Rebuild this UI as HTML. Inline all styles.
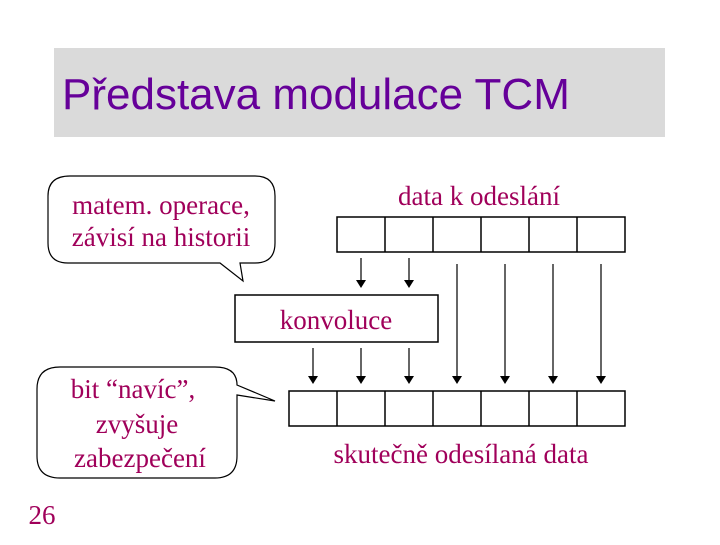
<!DOCTYPE html>
<html><head><meta charset="utf-8"><style>
body{margin:0;background:#fff;width:720px;height:540px;overflow:hidden}
</style></head><body>
<svg width="720" height="540" xmlns="http://www.w3.org/2000/svg">
<rect x="54" y="48" width="611" height="89" fill="#dadada"/>
<text x="62" y="109" font-family="Liberation Sans, sans-serif" font-size="44" fill="#660099">Představa modulace TCM</text>
<g fill="#fff" stroke="#000" stroke-width="1.2">
<path d="M70,176 H255 Q275,176 275,196 V243 Q275,263 255,263 H240 L243,281 L220,263 H68 Q48,263 48,243 V196 Q48,176 70,176 Z"/>
<path d="M60,367 H215 Q237,367 237,385 L275,401 L237,395 V456 Q237,478 215,478 H60 Q37,478 37,456 V389 Q37,367 60,367 Z"/>
</g>
<g font-family="Liberation Serif, serif" font-size="27" fill="#a0005a" text-anchor="middle">
<text x="161" y="214">matem. operace,</text>
<text x="161" y="246">závisí na historii</text>
<text x="133" y="398">bit “navíc”,</text>
<text x="137" y="433">zvyšuje</text>
<text x="140" y="467">zabezpečení</text>
<text x="479" y="205">data k odeslání</text>
<text x="336" y="329">konvoluce</text>
<text x="461" y="463">skutečně odesílaná data</text>
<text x="42" y="524">26</text>
</g>
<g fill="none" stroke="#000" stroke-width="1.5">
<rect x="337" y="217" width="288" height="35"/>
<path d="M385,217V252M433,217V252M481,217V252M529,217V252M577,217V252"/>
<rect x="289" y="391" width="336" height="35"/>
<path d="M337,391V426M385,391V426M433,391V426M481,391V426M529,391V426M577,391V426"/>
<rect x="235" y="295" width="203" height="47"/>
</g>
<g stroke="#000" stroke-width="1.2">
<path d="M361,258V282M409,258V282M457,264V378M505,264V378M553,264V378M601,264V378M313,348V378M361,348V378M409,348V378"/>
</g>
<g fill="#000">
<path d="M356,280h10l-5,8z"/><path d="M404,280h10l-5,8z"/>
<path d="M308,376h10l-5,8z"/><path d="M356,376h10l-5,8z"/><path d="M404,376h10l-5,8z"/>
<path d="M452,376h10l-5,8z"/><path d="M500,376h10l-5,8z"/><path d="M548,376h10l-5,8z"/><path d="M596,376h10l-5,8z"/>
</g>
</svg>
</body></html>
